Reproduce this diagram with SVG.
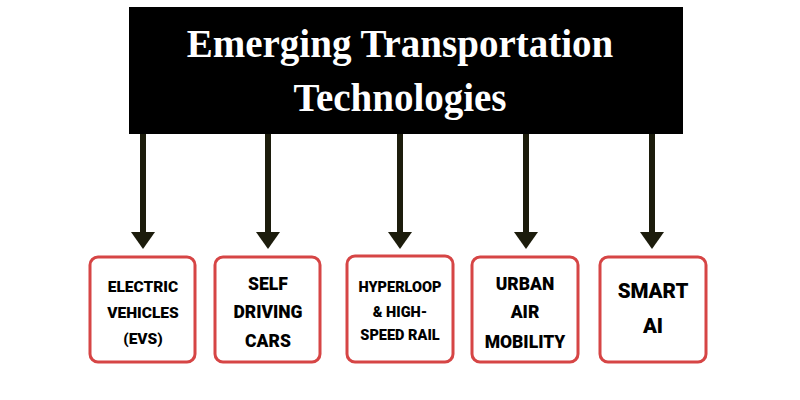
<svg xmlns="http://www.w3.org/2000/svg" width="800" height="400" viewBox="0 0 800 400">
<defs>
<style>
.title{font-family:"Liberation Serif","Times New Roman",serif;font-weight:bold;font-size:39px;fill:#fff;text-anchor:middle}
.box{fill:#fff;stroke:#d64545;stroke-width:3}
.lbl{font-family:"Roboto","DejaVu Sans",sans-serif;font-weight:900;fill:#000;text-anchor:middle}
.s{font-size:15.5px}
.h{font-size:14.5px}
.m{font-size:17.5px}
.l{font-size:20.5px}
.shaft{stroke:#1c1c0c;stroke-width:6;fill:none}
.head{fill:#1c1c0c}
</style>
</defs>
<rect width="800" height="400" fill="#fff"/>
<g id="title">
<rect x="129" y="7" width="554" height="127" fill="#000"/>
<text class="title" x="400" y="57">Emerging Transportation</text>
<text class="title" x="400" y="111">Technologies</text>
</g>
<g id="connectors">
<line class="shaft" x1="143" y1="134" x2="143" y2="234"/><polygon class="head" points="131,232 155,232 143,249"/>
<line class="shaft" x1="268" y1="134" x2="268" y2="234"/><polygon class="head" points="256,232 280,232 268,249"/>
<line class="shaft" x1="400" y1="134" x2="400" y2="234"/><polygon class="head" points="388,232 412,232 400,249"/>
<line class="shaft" x1="526" y1="134" x2="526" y2="234"/><polygon class="head" points="514,232 538,232 526,249"/>
<line class="shaft" x1="652" y1="134" x2="652" y2="234"/><polygon class="head" points="640,232 664,232 652,249"/>
</g>
<g id="n1">
<rect class="box" x="90" y="257" width="105" height="105" rx="8"/>
<text class="lbl s" x="143" y="292">ELECTRIC</text>
<text class="lbl s" x="143" y="318">VEHICLES</text>
<text class="lbl s" x="143" y="344">(EVS)</text>
</g>
<g id="n2">
<rect class="box" x="215" y="257" width="105" height="105" rx="8"/>
<text class="lbl m" x="268" y="290">SELF</text>
<text class="lbl m" x="268" y="318">DRIVING</text>
<text class="lbl m" x="268" y="347">CARS</text>
</g>
<g id="n3">
<rect class="box" x="347" y="256" width="106" height="106" rx="8"/>
<text class="lbl h" x="400" y="292">HYPERLOOP</text>
<text class="lbl h" x="400" y="317">&amp; HIGH-</text>
<text class="lbl h" x="400" y="340">SPEED RAIL</text>
</g>
<g id="n4">
<rect class="box" x="472" y="257" width="106" height="105" rx="8"/>
<text class="lbl m" x="525" y="290">URBAN</text>
<text class="lbl m" x="525" y="318">AIR</text>
<text class="lbl m" x="525" y="348">MOBILITY</text>
</g>
<g id="n5">
<rect class="box" x="600" y="257" width="106" height="105" rx="8"/>
<text class="lbl l" x="653" y="298">SMART</text>
<text class="lbl l" x="653" y="333">AI</text>
</g>
</svg>
